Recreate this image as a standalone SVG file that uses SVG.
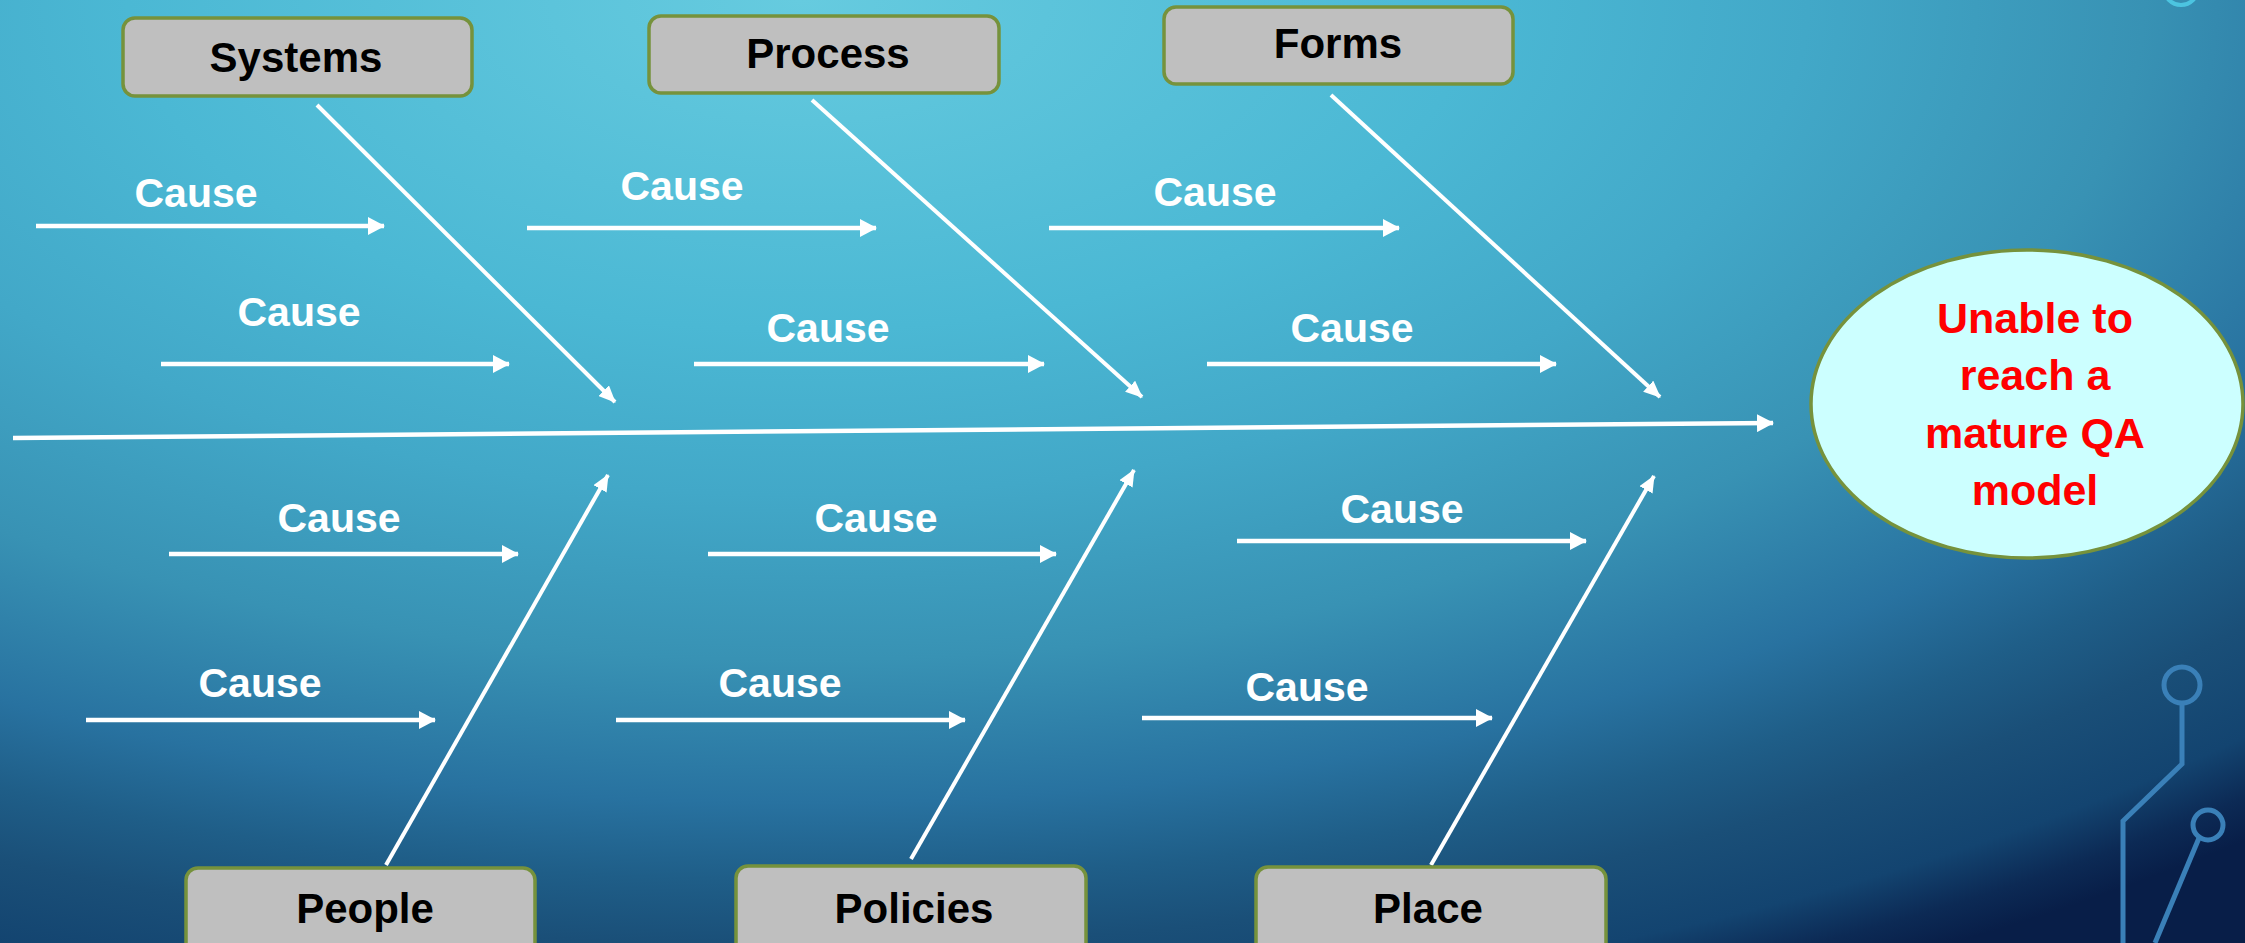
<svg xmlns="http://www.w3.org/2000/svg" width="2245" height="943" viewBox="0 0 2245 943">
  <defs>
    <radialGradient id="bg" gradientUnits="userSpaceOnUse" cx="800" cy="0" r="2240" gradientTransform="translate(800 0) scale(1 0.491) translate(-800 0)">
      <stop offset="0" stop-color="#66cbdf"/>
      <stop offset="0.30" stop-color="#4bb8d4"/>
      <stop offset="0.45" stop-color="#42a8c8"/>
      <stop offset="0.60" stop-color="#3892b4"/>
      <stop offset="0.73" stop-color="#2872a0"/>
      <stop offset="0.80" stop-color="#1f5e88"/>
      <stop offset="0.86" stop-color="#1a4f78"/>
      <stop offset="0.93" stop-color="#134470"/>
      <stop offset="0.97" stop-color="#0c2a55"/>
      <stop offset="1" stop-color="#081e48"/>
    </radialGradient>
    <marker id="ah" markerUnits="userSpaceOnUse" markerWidth="17" markerHeight="18" refX="16" refY="9" orient="auto" viewBox="0 0 17 18">
      <path d="M0,0 L17,9 L0,18 Z" fill="#ffffff"/>
    </marker>
    <marker id="ahb" markerUnits="userSpaceOnUse" markerWidth="17" markerHeight="15" refX="16" refY="7.5" orient="auto" viewBox="0 0 17 15">
      <path d="M0,0 L17,7.5 L0,15 Z" fill="#ffffff"/>
    </marker>
  </defs>
  <style>
    .box { fill: #bfbfbf; stroke: #76923c; stroke-width: 3.5; }
    .boxtxt { font-family: "Liberation Sans", Arial, sans-serif; font-weight: bold; font-size: 42px; fill: #000000; text-anchor: middle; }
    .cause { stroke: #ffffff; stroke-width: 4.5; fill: none; marker-end: url(#ah); }
    .bone { stroke: #ffffff; stroke-width: 4; fill: none; marker-end: url(#ahb); }
    .spine { stroke: #ffffff; stroke-width: 4.5; fill: none; marker-end: url(#ah); }
    .ctxt { font-family: "Liberation Sans", Arial, sans-serif; font-weight: bold; font-size: 41px; fill: #ffffff; text-anchor: middle; }
    .etxt { font-family: "Liberation Sans", Arial, sans-serif; font-weight: bold; font-size: 43px; fill: #ff0000; text-anchor: middle; }
    .circ { fill: none; stroke: #3a80b8; stroke-width: 5; }
  </style>

  <rect x="0" y="0" width="2245" height="943" fill="url(#bg)"/>

  <g id="decoration">
    <circle cx="2181" cy="-12" r="17" fill="none" stroke="#4cc4e0" stroke-width="4"/>
    <circle class="circ" cx="2182" cy="685" r="18"/>
    <polyline class="circ" points="2182,703 2182,764 2123,821 2123,943"/>
    <circle class="circ" cx="2208" cy="825" r="15"/>
    <line class="circ" x1="2199" y1="838" x2="2155" y2="943"/>
  </g>

  <g id="connectors">
    <line class="spine" x1="13" y1="438" x2="1773" y2="423"/>
    <line class="bone" x1="317" y1="105" x2="615" y2="402"/>
    <line class="bone" x1="812" y1="100" x2="1142" y2="397"/>
    <line class="bone" x1="1331" y1="95" x2="1660" y2="397"/>
    <line class="bone" x1="386" y1="865" x2="608" y2="475"/>
    <line class="bone" x1="911" y1="859" x2="1134" y2="470"/>
    <line class="bone" x1="1431" y1="865" x2="1654" y2="476"/>
    <line class="cause" x1="36" y1="226" x2="384" y2="226"/>
    <line class="cause" x1="161" y1="364" x2="509" y2="364"/>
    <line class="cause" x1="527" y1="228" x2="876" y2="228"/>
    <line class="cause" x1="694" y1="364" x2="1044" y2="364"/>
    <line class="cause" x1="1049" y1="228" x2="1399" y2="228"/>
    <line class="cause" x1="1207" y1="364" x2="1556" y2="364"/>
    <line class="cause" x1="169" y1="554" x2="518" y2="554"/>
    <line class="cause" x1="86" y1="720" x2="435" y2="720"/>
    <line class="cause" x1="708" y1="554" x2="1056" y2="554"/>
    <line class="cause" x1="616" y1="720" x2="965" y2="720"/>
    <line class="cause" x1="1237" y1="541" x2="1586" y2="541"/>
    <line class="cause" x1="1142" y1="718" x2="1492" y2="718"/>
  </g>

  <g id="cause-labels">
    <text class="ctxt" x="196" y="207">Cause</text>
    <text class="ctxt" x="299" y="326">Cause</text>
    <text class="ctxt" x="682" y="200">Cause</text>
    <text class="ctxt" x="828" y="342">Cause</text>
    <text class="ctxt" x="1215" y="206">Cause</text>
    <text class="ctxt" x="1352" y="342">Cause</text>
    <text class="ctxt" x="339" y="532">Cause</text>
    <text class="ctxt" x="260" y="697">Cause</text>
    <text class="ctxt" x="876" y="532">Cause</text>
    <text class="ctxt" x="780" y="697">Cause</text>
    <text class="ctxt" x="1402" y="523">Cause</text>
    <text class="ctxt" x="1307" y="701">Cause</text>
  </g>

  <g id="node-systems">
    <rect class="box" x="123" y="18" width="349" height="78" rx="12"/>
    <text class="boxtxt" x="296" y="72">Systems</text>
  </g>
  <g id="node-process">
    <rect class="box" x="649" y="16" width="350" height="77" rx="12"/>
    <text class="boxtxt" x="828" y="68">Process</text>
  </g>
  <g id="node-forms">
    <rect class="box" x="1164" y="7" width="349" height="77" rx="12"/>
    <text class="boxtxt" x="1338" y="58">Forms</text>
  </g>
  <g id="node-people">
    <rect class="box" x="186" y="868" width="349" height="90" rx="12"/>
    <text class="boxtxt" x="365" y="923">People</text>
  </g>
  <g id="node-policies">
    <rect class="box" x="736" y="866" width="350" height="92" rx="12"/>
    <text class="boxtxt" x="914" y="923">Policies</text>
  </g>
  <g id="node-place">
    <rect class="box" x="1256" y="867" width="350" height="91" rx="12"/>
    <text class="boxtxt" x="1428" y="923">Place</text>
  </g>

  <g id="node-effect">
    <ellipse cx="2027" cy="404" rx="216" ry="154" fill="#ccffff" stroke="#76923c" stroke-width="3.5"/>
    <text class="etxt" x="2035" y="333">Unable to</text>
    <text class="etxt" x="2035" y="390">reach a</text>
    <text class="etxt" x="2035" y="448">mature QA</text>
    <text class="etxt" x="2035" y="505">model</text>
  </g>
</svg>
